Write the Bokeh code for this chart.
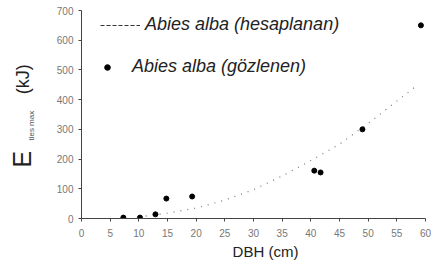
import math
from bokeh.plotting import figure
from bokeh.layouts import row, column
from bokeh.models import Range1d, Label, Legend, LegendItem, FixedTicker, ColumnDataSource
from bokeh.embed import file_html
from bokeh.resources import INLINE

# observed values
obs_dbh = [7.3, 10.2, 12.9, 14.8, 19.3, 40.6, 41.7, 49.0, 59.2]
obs_e = [3, 3, 14, 67, 74, 161, 155, 300, 650]

# predicted
pred_dbh = [10, 15, 20, 25, 30, 35, 40, 45, 50, 55, 58]
pred_e = [5, 18, 35, 62, 97, 143, 195, 250, 320, 395, 440]

x_ticks = [0, 5, 10, 15, 20, 25, 30, 35, 40, 45, 50, 55, 60]
y_ticks = [0, 100, 200, 300, 400, 500, 600, 700]

FONT = "Liberation Sans"
W, H = 437, 275
LEFT_W = 45
BOTTOM_H = 33
TOP_H = H - BOTTOM_H


def strip(w, h):
    f = figure(width=w, height=h, output_backend="svg", toolbar_location=None,
               x_range=Range1d(0, w), y_range=Range1d(0, h),
               x_axis_location=None, y_axis_location=None, min_border=0)
    f.outline_line_color = None
    f.grid.visible = False
    return f


# narrow strip holding the y-axis title
t = strip(LEFT_W, TOP_H)
t.add_layout(Label(x=21, y=TOP_H - 173, text="E", angle=math.pi / 2,
                   text_font=FONT, text_font_size="25px", text_color="#222222",
                   text_align="center", text_baseline="middle"))
t.add_layout(Label(x=30.5, y=TOP_H - 134, text="tles max", angle=math.pi / 2,
                   text_font=FONT, text_font_size="8px", text_color="#555555",
                   text_align="center", text_baseline="middle"))
t.add_layout(Label(x=22.5, y=TOP_H - 80, text="(kJ)", angle=math.pi / 2,
                   text_font=FONT, text_font_size="18px", text_color="#222222",
                   text_align="center", text_baseline="middle"))

# bottom strip holding the x-axis title
b = strip(W, BOTTOM_H)
b.add_layout(Label(x=265, y=H - 250.5, text="DBH (cm)",
                   text_font=FONT, text_font_size="15px", text_color="#222222",
                   text_align="center", text_baseline="middle"))

p = figure(width=W - LEFT_W, height=TOP_H, output_backend="svg", toolbar_location=None,
           x_range=Range1d(0, 60), y_range=Range1d(0, 700),
           min_border_left=81 - LEFT_W, min_border_right=12, min_border_top=10,
           min_border_bottom=TOP_H - 218)
p.outline_line_color = None
p.grid.visible = False
p.background_fill_color = "white"

for ax in (p.xaxis[0], p.yaxis[0]):
    ax.axis_line_color = "#444444"
    ax.major_tick_line_color = "#444444"
    ax.minor_tick_line_color = None
    ax.major_tick_in = 0
    ax.major_tick_out = 3
    ax.major_label_text_font = FONT
    ax.major_label_text_font_size = "10px"
    ax.major_label_text_color = "#777777"
p.xaxis[0].ticker = FixedTicker(ticks=x_ticks)
p.yaxis[0].ticker = FixedTicker(ticks=y_ticks)
p.xaxis[0].major_label_standoff = 7
p.yaxis[0].major_label_standoff = 5

pred_src = ColumnDataSource(dict(x=pred_dbh, y=pred_e))
obs_src = ColumnDataSource(dict(x=obs_dbh, y=obs_e))

p.line("x", "y", source=pred_src, line_color="#777777", line_width=1.2, line_dash="1 6")
dots = p.scatter("x", "y", source=obs_src, size=5, color="black")

legend_line = p.line(x=[float("nan")], y=[float("nan")], line_color="#333333", line_width=1, line_dash="4 2")

leg1 = Legend(items=[LegendItem(label="Abies alba (hesaplanan)", renderers=[legend_line])],
              location=(19, 183), orientation="vertical")
leg2 = Legend(items=[LegendItem(label="Abies alba (gözlenen)", renderers=[dots])],
              location=(19, 141), orientation="vertical")
for lg, gw, st in ((leg1, 40, 5), (leg2, 14, 18)):
    lg.glyph_width = gw
    lg.glyph_height = 20
    lg.label_height = 20
    lg.label_standoff = st
    lg.padding = 0
    lg.margin = 0
    lg.border_line_color = None
    lg.background_fill_alpha = 0
    lg.label_text_font = FONT
    lg.label_text_font_style = "italic"
    lg.label_text_font_size = "18px"
    lg.label_text_color = "#222222"
    p.add_layout(lg, "center")

layout = column(row(t, p, spacing=0), b, spacing=0)
open("out.html", "w").write(file_html(layout, INLINE))
